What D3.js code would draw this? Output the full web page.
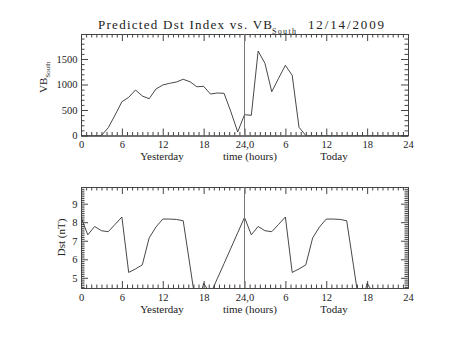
<!DOCTYPE html>
<html>
<head>
<meta charset="utf-8">
<script src="https://cdn.jsdelivr.net/npm/d3@7"></script>
<style>
  html, body { margin: 0; padding: 0; background: #fff; }
  svg { display: block; }
  text { font-family: "Liberation Serif", "DejaVu Serif", serif; fill: #222; }
</style>
</head>
<body>
<svg id="chart" width="453" height="340"></svg>
<script>
// Hourly values: 0-24 = yesterday, 24-48 = today
const vbHours = d3.range(0, 49);
const vbSouth = [
  0, 0, 0, 0, 153, 400, 662, 749, 892, 774, 721, 911, 990, 1023, 1049, 1102,
  1054, 956, 964, 813, 833, 827, 466, 69, 408, 396, 1656, 1415, 858, 1121, 1376, 1180,
  161, 0, 0, 0, 0, 0, 0, 0, 0, 0, 0, 0, 0, 0, 0, 0, 0
];
const dstHours = d3.range(0, 44);
const dstIndex = [
  8.26, 7.32, 7.77, 7.54, 7.49, 7.88, 8.28, 5.29, 5.48, 5.70, 7.15, 7.74, 8.17, 8.17, 8.15, 8.08,
  5.65, 3.20, 4.71, 4.12, 4.95, 5.77, 6.60, 7.43,
  8.26, 7.32, 7.77, 7.54, 7.49, 7.88, 8.28, 5.29, 5.48, 5.70, 7.15, 7.74, 8.17, 8.17, 8.15, 8.08,
  5.65, 3.20, 4.71, 4.12
];
const xMajorTicks = [0, 6, 12, 18, 24, 30, 36, 42, 48];
const xTickLabels = ["0", "6", "12", "18", "24,0", "6", "12", "18", "24"];
const vbMajorTicks = [0, 500, 1000, 1500];
const dstMajorTicks = [5, 6, 7, 8, 9];
const titleText = "Predicted Dst Index vs. VB";
const titleSub = "South";
const dateText = "12/14/2009";

const svg = d3.select("#chart");
const left = 81, right = 408;
const x = d3.scaleLinear().domain([0, 48]).range([left, right]);
const xMinor = d3.range(0, 48.01, 0.75).filter(v => v % 6 !== 0);

const axisColor = "#444";

function drawPanel(opts) {
  const { top, bottom, y, yMajor, yMinor, yFmt, data, hours, clipId } = opts;
  const g = svg.append("g");

  // x axes: bottom with labels, top plain
  const xb = g.append("g").attr("transform", `translate(0,${bottom})`);
  xb.call(d3.axisBottom(x).tickValues(xMajorTicks).tickSize(-7).tickSizeOuter(0)
    .tickPadding(5.5).tickFormat((d, i) => xTickLabels[i]));
  xb.append("g").call(d3.axisBottom(x).tickValues(xMinor).tickSize(-3.5).tickSizeOuter(0).tickFormat(""));
  const xt = g.append("g").attr("transform", `translate(0,${top})`);
  xt.call(d3.axisTop(x).tickValues(xMajorTicks).tickSize(-7).tickSizeOuter(0).tickFormat(""));
  xt.append("g").call(d3.axisTop(x).tickValues(xMinor).tickSize(-3.5).tickSizeOuter(0).tickFormat(""));

  // y axes: left with labels, right plain
  const yl = g.append("g").attr("transform", `translate(${left},0)`);
  yl.call(d3.axisLeft(y).tickValues(yMajor).tickSize(-7).tickSizeOuter(0).tickPadding(3.5).tickFormat(yFmt));
  yl.append("g").call(d3.axisLeft(y).tickValues(yMinor).tickSize(-3.5).tickSizeOuter(0).tickFormat(""));
  const yr = g.append("g").attr("transform", `translate(${right},0)`);
  yr.call(d3.axisRight(y).tickValues(yMajor).tickSize(-7).tickSizeOuter(0).tickFormat(""));
  yr.append("g").call(d3.axisRight(y).tickValues(yMinor).tickSize(-3.5).tickSizeOuter(0).tickFormat(""));

  g.selectAll(".domain").attr("stroke", axisColor);
  g.selectAll(".tick line").attr("stroke", axisColor);
  g.selectAll(".tick text").attr("font-family", "Liberation Serif, serif")
    .attr("font-size", 10.5).attr("fill", "#222");

  // clip to plotting region
  svg.append("clipPath").attr("id", clipId).append("rect")
    .attr("x", left).attr("y", top).attr("width", right - left).attr("height", bottom - top);

  const line = d3.line().x((d, i) => x(hours[i])).y(d => y(d));
  g.append("path").datum(data)
    .attr("clip-path", `url(#${clipId})`)
    .attr("fill", "none").attr("stroke", "#333").attr("stroke-width", 0.9)
    .attr("stroke-linejoin", "miter")
    .attr("d", line);

  // day boundary
  g.append("line")
    .attr("x1", x(24)).attr("x2", x(24)).attr("y1", top).attr("y2", bottom)
    .attr("stroke", "#777").attr("stroke-width", 1);

  // axis captions under the x axis
  const capY = bottom + 24.5;
  g.append("text").attr("x", 162).attr("y", capY).attr("text-anchor", "middle")
    .attr("font-size", 11).text("Yesterday");
  g.append("text").attr("x", 250).attr("y", capY).attr("text-anchor", "middle")
    .attr("font-size", 11).text("time (hours)");
  g.append("text").attr("x", 334).attr("y", capY).attr("text-anchor", "middle")
    .attr("font-size", 11).text("Today");
  return g;
}

// Upper panel: VB south
const yVB = d3.scaleLinear().domain([0, 1990]).range([135.5, 34]);
drawPanel({
  top: 34, bottom: 135.5, y: yVB,
  yMajor: vbMajorTicks,
  yMinor: d3.range(0, 1991, 100).filter(v => v % 500 !== 0),
  yFmt: d => String(d),
  data: vbSouth, hours: vbHours, clipId: "clipVB"
});

// Lower panel: Dst
const yDst = d3.scaleLinear().domain([4.45, 9.9]).range([288, 187]);
drawPanel({
  top: 187, bottom: 288, y: yDst,
  yMajor: dstMajorTicks,
  yMinor: d3.range(4.5, 9.9, 0.1).map(v => Math.round(v * 10) / 10).filter(v => Math.abs(v - Math.round(v)) > 0.01),
  yFmt: d => String(d),
  data: dstIndex, hours: dstHours, clipId: "clipDst"
});

// Title
const title = svg.append("text").attr("y", 28.5).attr("font-size", 13);
title.append("tspan").attr("x", 98).attr("textLength", 174).attr("lengthAdjust", "spacing").text(titleText);
svg.append("text").attr("x", 272).attr("y", 34).attr("font-size", 8)
  .attr("textLength", 24).attr("lengthAdjust", "spacing").text(titleSub);
svg.append("text").attr("x", 308).attr("y", 28.5).attr("font-size", 13)
  .attr("textLength", 76).attr("lengthAdjust", "spacing").text(dateText);

// Y axis titles
const vbLabel = svg.append("text").attr("transform", "translate(47,93) rotate(-90)").attr("font-size", 11);
vbLabel.append("tspan").text("VB");
vbLabel.append("tspan").attr("font-size", 7).attr("dy", 3).text("South");

svg.append("text").attr("transform", "translate(65,237.5) rotate(-90)")
  .attr("text-anchor", "middle").attr("font-size", 11).text("Dst (nT)");
</script>
</body>
</html>
